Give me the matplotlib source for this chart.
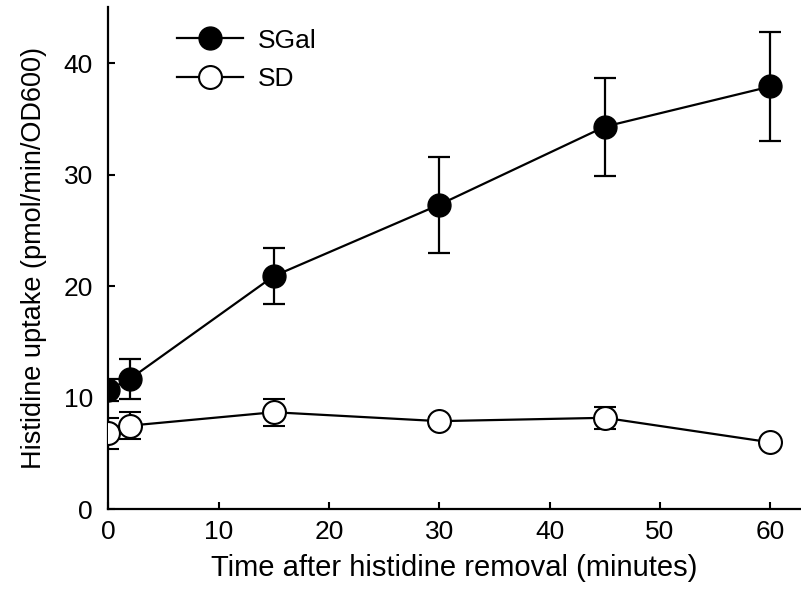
import matplotlib
matplotlib.use("Agg")
import matplotlib.pyplot as plt
from matplotlib.lines import Line2D

plt.rcParams['font.family'] = ['Liberation Sans', 'DejaVu Sans']

time = [0, 2, 15, 30, 45, 60]
sgal = [10.7, 11.7, 20.9, 27.3, 34.3, 37.9]
sgal_err = [1.0, 1.8, 2.5, 4.3, 4.4, 4.9]
sd = [6.8, 7.5, 8.7, 7.9, 8.2, 6.0]
sd_err = [1.4, 1.2, 1.2, 0.4, 1.0, 0.3]

fig = plt.figure(figsize=(8.01, 6.07), dpi=100)
ax = fig.add_axes([0.135, 0.161, 0.864, 0.827])

ax.errorbar(time, sgal, yerr=sgal_err, color='black', marker='o', markersize=16.5,
            markerfacecolor='black', markeredgecolor='black', linewidth=1.6,
            elinewidth=1.6, capsize=8, capthick=1.6, zorder=3)
ax.errorbar(time, sd, yerr=sd_err, color='black', marker='o', markersize=16.5,
            markerfacecolor='white', markeredgecolor='black', markeredgewidth=1.5,
            linewidth=1.6, elinewidth=1.6, capsize=8, capthick=1.6, zorder=3)

ax.set_xlim(0, 62.7)
ax.set_ylim(0, 45)
ax.set_xticks([0, 10, 20, 30, 40, 50, 60])
ax.set_yticks([0, 10, 20, 30, 40])
ax.spines['top'].set_visible(False)
ax.spines['right'].set_visible(False)
for s in ['left', 'bottom']:
    ax.spines[s].set_linewidth(1.6)
ax.tick_params(direction='in', length=5, width=1.5, labelsize=19)
ax.tick_params(axis='y', pad=11)
ax.tick_params(axis='x', pad=8)

ax.set_xlabel('Time after histidine removal (minutes)', fontsize=21, labelpad=7)
ax.set_ylabel('Histidine uptake (pmol/min/OD600)', fontsize=19.5, labelpad=12)

handles = [
    Line2D([], [], color='black', marker='o', markersize=16.5, markerfacecolor='black',
           linewidth=1.6),
    Line2D([], [], color='black', marker='o', markersize=16.5, markerfacecolor='white',
           markeredgewidth=1.5, linewidth=1.6),
]
ax.legend(handles, ['SGal', 'SD'], loc='upper left', bbox_to_anchor=(0.065, 1.005),
          frameon=False, fontsize=19, handlelength=2.5, labelspacing=0.55,
          handletextpad=0.55)

fig.savefig('out.png', dpi=100)
